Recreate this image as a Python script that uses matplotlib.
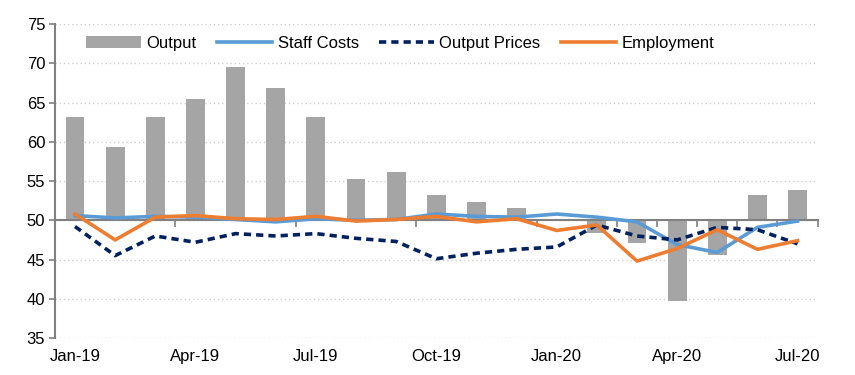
import matplotlib
matplotlib.use("Agg")
import matplotlib.pyplot as plt
import numpy as np

plt.rcParams["font.family"] = ["Liberation Sans", "DejaVu Sans"]

# monthly survey readings, Jan-19 .. Jul-20
months = ["Jan-19", "Feb-19", "Mar-19", "Apr-19", "May-19", "Jun-19", "Jul-19",
          "Aug-19", "Sep-19", "Oct-19", "Nov-19", "Dec-19", "Jan-20", "Feb-20",
          "Mar-20", "Apr-20", "May-20", "Jun-20", "Jul-20"]
output = [63.1, 59.4, 63.1, 65.4, 69.5, 66.9, 63.2, 55.2, 56.1, 53.2,
          52.3, 51.6, 50.2, 48.4, 47.1, 39.7, 45.6, 53.2, 53.8]
staff_costs = [50.6, 50.3, 50.5, 50.4, 50.1, 49.8, 50.2, 50.0, 50.1, 50.8,
               50.5, 50.4, 50.8, 50.4, 49.8, 46.9, 45.9, 49.1, 49.9]
output_prices = [49.2, 45.5, 48.0, 47.2, 48.3, 48.0, 48.3, 47.7, 47.3, 45.1,
                 45.8, 46.3, 46.6, 49.4, 48.0, 47.5, 49.1, 48.8, 47.0]
employment = [50.8, 47.5, 50.4, 50.6, 50.2, 50.1, 50.5, 49.9, 50.1, 50.5,
              49.8, 50.2, 48.7, 49.4, 44.8, 46.4, 48.8, 46.3, 47.4]
label_months = ["Jan-19", "Apr-19", "Jul-19", "Oct-19", "Jan-20", "Apr-20", "Jul-20"]

x = np.arange(len(months))
base = 50

fig = plt.figure(figsize=(8.55, 3.75), dpi=100)
ax = fig.add_axes([0.0643, 0.0987, 0.892, 0.837])

bars = ax.bar(x, np.array(output) - base, bottom=base, width=0.47, color="#A5A5A5",
              label="Output", zorder=1)
l1, = ax.plot(x, staff_costs, color="#5B9BD5", lw=2.6, label="Staff Costs", zorder=3)
l2, = ax.plot(x, output_prices, color="#002060", lw=2.6, ls=(0, (2.0, 1.4)),
              label="Output Prices", zorder=3)
l3, = ax.plot(x, employment, color="#ED7D31", lw=2.6, label="Employment", zorder=3)

ax.set_xlim(-0.5, len(months) - 0.5)
ax.set_ylim(35, 75)
ax.set_yticks(range(35, 80, 5))
ax.yaxis.grid(True, color="#D0D0D0", ls=(0, (1, 2)), lw=1)
ax.set_axisbelow(True)

# labels every quarter at the bottom
ax.set_xticks([months.index(m) for m in label_months])
ax.set_xticklabels(label_months)
ax.tick_params(axis="x", which="major", length=0, pad=8, labelsize=12)
# tick marks on the 50 line
ax.set_xticks([2.5, 5.5, 8.5, 11.5, 13.5, 14.5, 15.5, 16.5, 17.5, 18.5], minor=True)
ax.tick_params(axis="x", which="minor", top=True, bottom=False, direction="in",
               length=5, width=1.2, color="#808080")
ax.tick_params(axis="y", length=4, width=1.2, color="#808080", labelsize=12, pad=3)

ax.spines["top"].set_position(("data", base))
ax.spines["top"].set_color("#808080")
ax.spines["top"].set_linewidth(1.5)
ax.spines["left"].set_color("#808080")
ax.spines["left"].set_linewidth(1.5)
ax.spines["right"].set_visible(False)
ax.spines["bottom"].set_visible(False)

ax.legend([bars, l1, l2, l3], ["Output", "Staff Costs", "Output Prices", "Employment"],
          loc="upper left", bbox_to_anchor=(0.025, 1.0), ncol=4, frameon=False,
          fontsize=12, handlelength=3.3, columnspacing=1.2, handletextpad=0.35,
          borderaxespad=0.3)

fig.savefig("out.png", dpi=100)
